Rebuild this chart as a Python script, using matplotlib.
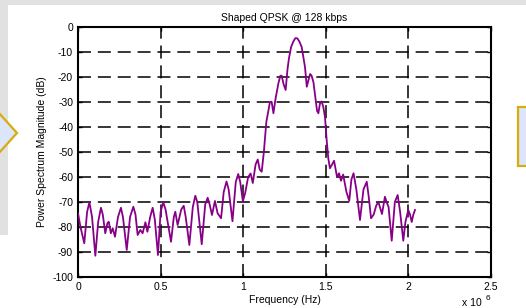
import numpy as np
import matplotlib
matplotlib.use("Agg")
import matplotlib.pyplot as plt
from matplotlib.patches import Rectangle, Polygon

plt.rcParams['font.family'] = ['Liberation Sans', 'DejaVu Sans']
plt.rcParams['axes.unicode_minus'] = False

# frequency in units of 1e6 Hz, magnitude in dB
freq = [0.000, 0.015, 0.038, 0.055, 0.069, 0.085, 0.105, 0.122, 0.139, 0.150,
        0.165, 0.178, 0.186, 0.199, 0.210, 0.224, 0.242, 0.260, 0.272, 0.295,
        0.315, 0.335, 0.348, 0.361, 0.377, 0.391, 0.408, 0.420, 0.437, 0.452,
        0.465, 0.484, 0.500, 0.516, 0.530, 0.563, 0.580, 0.589, 0.603, 0.625,
        0.640, 0.652, 0.674, 0.695, 0.710, 0.722, 0.749, 0.770, 0.785, 0.797,
        0.811, 0.829, 0.845, 0.866, 0.882, 0.899, 0.912, 0.935, 0.955, 0.970,
        0.982, 0.998, 1.012, 1.030, 1.045, 1.058, 1.075, 1.088, 1.100, 1.112,
        1.125, 1.140, 1.152, 1.162, 1.172, 1.183, 1.195, 1.213, 1.225, 1.233,
        1.245, 1.257, 1.268, 1.277, 1.290, 1.303, 1.315, 1.327, 1.340, 1.354,
        1.365, 1.374, 1.385, 1.394, 1.405, 1.414, 1.425, 1.438, 1.447, 1.455,
        1.465, 1.475, 1.485, 1.495, 1.505, 1.515, 1.525, 1.538, 1.550, 1.568,
        1.580, 1.592, 1.605, 1.625, 1.642, 1.655, 1.668, 1.685, 1.707, 1.728,
        1.748, 1.760, 1.774, 1.790, 1.805, 1.818, 1.840, 1.858, 1.868, 1.880,
        1.899, 1.918, 1.935, 1.950, 1.969, 1.982, 1.999, 2.010, 2.020, 2.030,
        2.040]
mag = [-74.5, -80.0, -86.5, -74.0, -70.1, -76.0, -91.5, -78.0, -72.3, -75.0,
       -82.5, -78.5, -77.9, -82.5, -80.5, -83.9, -76.0, -72.3, -76.0, -89.2,
       -76.0, -71.9, -75.0, -83.2, -81.2, -82.5, -78.1, -81.9, -76.0, -72.3,
       -77.0, -91.2, -74.0, -70.1, -73.0, -85.9, -76.0, -73.9, -79.2, -73.0,
       -71.5, -76.0, -87.2, -72.0, -67.5, -70.0, -86.9, -71.0, -68.3, -71.0,
       -75.2, -69.6, -74.5, -76.5, -66.0, -61.8, -65.0, -77.7, -62.0, -58.8,
       -62.0, -69.7, -66.4, -60.0, -58.6, -62.4, -55.0, -53.0, -57.0, -57.9,
       -50.0, -38.0, -33.5, -30.0, -29.9, -34.5, -29.0, -22.5, -19.5, -19.5,
       -23.0, -25.2, -17.0, -12.5, -8.0, -5.9, -4.5, -4.5, -5.8, -8.0,
       -12.5, -16.0, -23.9, -21.5, -18.8, -19.5, -22.0, -29.0, -33.5, -34.5,
       -30.5, -29.8, -32.0, -36.0, -45.0, -52.5, -56.5, -55.0, -53.5, -60.0,
       -58.5, -61.5, -59.0, -66.0, -69.5, -61.0, -58.5, -65.0, -77.2, -65.0,
       -61.9, -68.0, -76.5, -75.0, -71.5, -69.9, -74.8, -67.9, -70.0, -72.0,
       -85.5, -70.0, -67.2, -74.0, -85.5, -78.0, -73.2, -75.0, -78.0, -75.0,
       -73.2]

xticks = [0, 0.5, 1, 1.5, 2, 2.5]
xticklabels = ['0', '0.5', '1', '1.5', '2', '2.5']
yticks = [0, -10, -20, -30, -40, -50, -60, -70, -80, -90, -100]

W, H = 526, 308
fig = plt.figure(figsize=(W / 100, H / 100), dpi=100)
fig.patch.set_facecolor('white')

def fx(px):
    return px / W

def fy(py):
    return 1 - py / H

# background of the slide around the chart
gray = '#e1e1e1'
fig.add_artist(Rectangle((0, fy(5)), 1, 5 / H, transform=fig.transFigure,
                         facecolor=gray, edgecolor='none', zorder=0))
fig.add_artist(Rectangle((0, fy(235)), fx(8), 230 / H, transform=fig.transFigure,
                         facecolor=gray, edgecolor='none', zorder=0))
fig.add_artist(Polygon([(fx(-2), fy(112)), (fx(17), fy(133)), (fx(-2), fy(154))],
                       closed=True, transform=fig.transFigure,
                       facecolor='#dce5f9', edgecolor='#d6ad0c', linewidth=1.6, zorder=1))
fig.add_artist(Rectangle((fx(518), fy(166)), fx(20), 59 / H, transform=fig.transFigure,
                         facecolor='#dce5f9', edgecolor='#d6ad0c', linewidth=1.6, zorder=1))

ax = fig.add_axes([fx(78), fy(277), fx(491) - fx(78), fy(27) - fy(277)])
ax.set_facecolor('white')
ax.plot(freq, mag, color='#880088', linewidth=1.3, zorder=3)

ax.set_xlim(0, 2.5)
ax.set_ylim(-100, 0)
ax.set_xticks(xticks)
ax.set_xticklabels(xticklabels)
ax.set_yticks(yticks)
ax.set_yticklabels([str(v) for v in yticks])
ax.tick_params(direction='in', length=3, width=1.0, labelsize=7.5, pad=3.5,
               top=True, right=True, colors='black')
ax.grid(True, color='black', linestyle=(0, (8.5, 4.5)), linewidth=1.1, zorder=2)
ax.set_axisbelow(False)
for s in ax.spines.values():
    s.set_linewidth(1.5)

ax.set_title('Shaped QPSK @ 128 kbps', fontsize=7.5, pad=4)
ax.set_xlabel('Frequency (Hz)', fontsize=7.5, labelpad=2)
ax.set_ylabel('Power Spectrum Magnitude (dB)', fontsize=7.5, labelpad=4)
fig.text(fx(462), fy(303), 'x 10', fontsize=7.5, va='center', ha='left')
fig.text(fx(486), fy(298), '6', fontsize=6, va='center', ha='left')

fig.savefig('out.png', dpi=100, facecolor='white')
